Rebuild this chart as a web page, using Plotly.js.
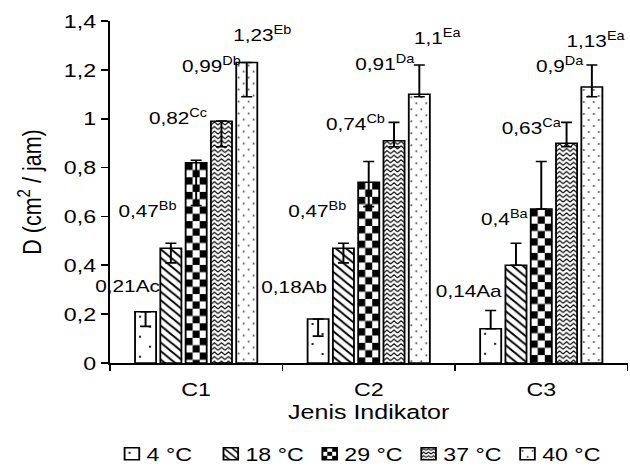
<!DOCTYPE html>
<html>
<head>
<meta charset="utf-8">
<script src="https://cdn.plot.ly/plotly-3.0.1.min.js"></script>
<style>
  html, body { margin: 0; padding: 0; background: #fff; }
  #wrap { width: 630px; height: 469px; overflow: hidden; position: relative; }
  #plot { width: 516px; height: 469px; transform-origin: 0 0; }
</style>
</head>
<body>
<div id="wrap"><div id="plot"></div></div>
<script>
// ---- data ----
const categories = ['C1', 'C2', 'C3'];
const seriesNames = ['4 °C', '18 °C', '29 °C', '37 °C', '40 °C'];

const d4  = [0.21, 0.18, 0.14];
const d18 = [0.47, 0.47, 0.40];
const d29 = [0.82, 0.74, 0.63];
const d37 = [0.99, 0.91, 0.90];
const d40 = [1.23, 1.10, 1.13];

const letters4  = ['Ac', 'Ab', 'Aa'];
const letters18 = ['Bb', 'Bb', 'Ba'];
const letters29 = ['Cc', 'Cb', 'Ca'];
const letters37 = ['Db', 'Da', 'Da'];
const letters40 = ['Eb', 'Ea', 'Ea'];

const errPlus4   = [0, 0, 0.075];
const errMinus4  = [0.06, 0.07, 0];
const errPlus18  = [0.02, 0.02, 0.09];
const errMinus18 = [0.06, 0.06, 0];
const errPlus29  = [0.01, 0.085, 0.195];
const errMinus29 = [0.175, 0.10, 0];
const errPlus37  = [0, 0.075, 0.085];
const errMinus37 = [0.105, 0.025, 0.015];
const errPlus40  = [0, 0.12, 0.09];
const errMinus40 = [0.14, 0.01, 0.04];

// ---- presentation ----
const W = 630, W0 = 516, S = W / W0;   // the reference is stretched horizontally
document.getElementById('plot').style.transform = 'scaleX(' + S + ')';

const values = [d4, d18, d29, d37, d40];
const letters = [letters4, letters18, letters29, letters37, letters40];
const ePlus = [errPlus4, errPlus18, errPlus29, errPlus37, errPlus40];
const eMinus = [errMinus4, errMinus18, errMinus29, errMinus37, errMinus40];

// label offsets (real px: dx from category centre, dy up from bar top)
const labelOffsets = [
  [[-69, 25], [-75, 32], [-72, 37]],
  [[-48, 38], [-51, 38], [-37, 47]],
  [[-18, 46], [-13, 59], [-10, 82]],
  [[16, 56],  [16, 78],  [18, 78]],
  [[66, 29],  [69, 57],  [55, 47]]
];
const basePatterns = [
  {shape: '.', size: 14, solidity: 0.02},
  {shape: '\\', size: 6, solidity: 0.3},
  {shape: '+', size: 10, solidity: 0.5},
  {shape: '-', size: 5, solidity: 0.3},
  {shape: '.', size: 8, solidity: 0.05}
];

const FONT = 'Liberation Sans, Arial, sans-serif';
const FS = 19;

const traces = seriesNames.map((name, i) => ({
  type: 'bar',
  name: name,
  x: categories,
  y: values[i],
  marker: {
    color: '#ffffff',
    line: {color: '#000000', width: 1.5},
    pattern: Object.assign({fgcolor: '#000000', bgcolor: '#ffffff', fillmode: 'replace'}, basePatterns[i])
  },
  error_y: {
    type: 'data', symmetric: false,
    array: ePlus[i], arrayminus: eMinus[i],
    color: '#000000', thickness: 1.6, width: 4.5, visible: true
  },
  hoverinfo: 'none'
}));

const fmt = v => String(v).replace('.', ',');
const annotations = [];
values.forEach((arr, i) => {
  arr.forEach((v, j) => {
    const txt = i === 0 ? fmt(v) + letters[i][j] : fmt(v) + '<sup>' + letters[i][j] + '</sup>';
    annotations.push({
      x: categories[j], y: v, xref: 'x', yref: 'y',
      text: txt, showarrow: false,
      xshift: labelOffsets[i][j][0] / S,
      yshift: labelOffsets[i][j][1],
      font: {family: FONT, size: 17, color: '#000000'}
    });
  });
});

const layout = {
  width: W0, height: 469,
  margin: {l: 90, r: 2, t: 21, b: 106, autoexpand: false},
  paper_bgcolor: '#fff', plot_bgcolor: '#fff',
  separators: ', ',
  font: {family: FONT, size: FS, color: '#000000'},
  barmode: 'group', bargap: 0.267, bargroupgap: 0.167,
  showlegend: true,
  legend: {
    orientation: 'h', x: 0.473, xanchor: 'center', y: -0.266, yanchor: 'middle',
    entrywidth: 36, entrywidthmode: 'pixels',
    font: {family: FONT, size: FS, color: '#000000'}, bgcolor: 'rgba(0,0,0,0)'
  },
  xaxis: {
    type: 'category', range: [-0.5, 2.5], autorange: false, automargin: false,
    showline: true, linecolor: '#000', linewidth: 1.6,
    ticks: 'outside', tickson: 'boundaries', ticklen: 6, tickwidth: 1.5, tickcolor: '#000',
    ticklabelstandoff: 9, showgrid: false, zeroline: false,
    tickfont: {family: FONT, size: FS, color: '#000000'},
    title: {text: 'Jenis Indikator', standoff: 5, font: {family: FONT, size: 20.5, color: '#000000'}}
  },
  yaxis: {
    range: [0, 1.4], autorange: false, automargin: false,
    dtick: 0.2, tick0: 0, showline: true, linecolor: '#000', linewidth: 1.5,
    ticks: 'outside', ticklen: 6, tickwidth: 1.6, tickcolor: '#000',
    ticklabelstandoff: 8.5, showgrid: false, zeroline: false,
    tickfont: {family: FONT, size: FS, color: '#000000'},
    title: {text: 'D (cm<sup>2</sup> / jam)', standoff: 12, font: {family: FONT, size: 21.5, color: '#000000'}}
  },
  annotations: annotations
};

const SVGNS = 'http://www.w3.org/2000/svg';
function el(tag, attrs) {
  const e = document.createElementNS(SVGNS, tag);
  for (const k in attrs) e.setAttribute(k, attrs[k]);
  return e;
}
function buildPattern(kind, id, bb) {
  let w, h, kids = [];
  if (kind === 0) {
    w = 20 / S; h = 20;
    kids.push(el('circle', {cx: 5 / S, cy: 5, r: 1, fill: '#000'}));
    kids.push(el('circle', {cx: 15 / S, cy: 15, r: 1, fill: '#000'}));
  } else if (kind === 2) {
    const q = bb.width / 3; const qh = bb.width < 14 ? 4 : 7.3;
    w = 2 * q; h = 2 * qh;
    kids.push(el('rect', {x: 0, y: 0, width: q, height: qh, fill: '#000'}));
    kids.push(el('rect', {x: q, y: qh, width: q, height: qh, fill: '#000'}));
  } else if (kind === 3) {
    w = bb.width / 3; h = bb.width < 14 ? 3.5 : 4.6;
    kids.push(el('path', {d: 'M0,' + (h - 0.8) + 'L' + (w / 2) + ',0.8L' + w + ',' + (h - 0.8),
      fill: 'none', stroke: '#000', 'stroke-width': 1}));
  } else if (kind === 4) {
    w = 10 / S; h = 12;
    kids.push(el('circle', {cx: 2.5 / S, cy: 3, r: 0.8, fill: '#000'}));
    kids.push(el('circle', {cx: 7.5 / S, cy: 9, r: 0.8, fill: '#000'}));
  }
  const p = el('pattern', {id: id, patternUnits: 'userSpaceOnUse', x: bb.x, y: bb.y, width: w, height: h});
  p.appendChild(el('rect', {x: 0, y: 0, width: w, height: h, fill: '#fff'}));
  kids.forEach(k => p.appendChild(k));
  return p;
}

Plotly.newPlot('plot', traces, layout, {staticPlot: true, displayModeBar: false}).then(gd => {
  const svg = gd.querySelector('svg.main-svg');
  let defs = svg.querySelector('defs');
  if (!defs) { defs = el('defs', {}); svg.insertBefore(defs, svg.firstChild); }
  let n = 0;
  const custom = [0, 2, 3, 4];
  const barTraces = gd.querySelectorAll('.barlayer .trace');
  const legTraces = gd.querySelectorAll('.legend .traces');
  custom.forEach(i => {
    const paths = [];
    if (barTraces[i]) barTraces[i].querySelectorAll('.point path').forEach(p => paths.push(p));
    if (legTraces[i]) legTraces[i].querySelectorAll('.legendpoints path').forEach(p => paths.push(p));
    paths.forEach(path => {
      const bb = path.getBBox();
      if (!bb.width || !bb.height) return;
      const id = 'cpat' + (n++);
      defs.appendChild(buildPattern(i, id, bb));
      path.style.fill = 'url(#' + id + ')';
    });
  });
  // pull legend text closer to its swatch, as in the reference
  gd.querySelectorAll('.legend .legendtext').forEach(t => t.setAttribute('x', 32));
});
</script>
</body>
</html>
